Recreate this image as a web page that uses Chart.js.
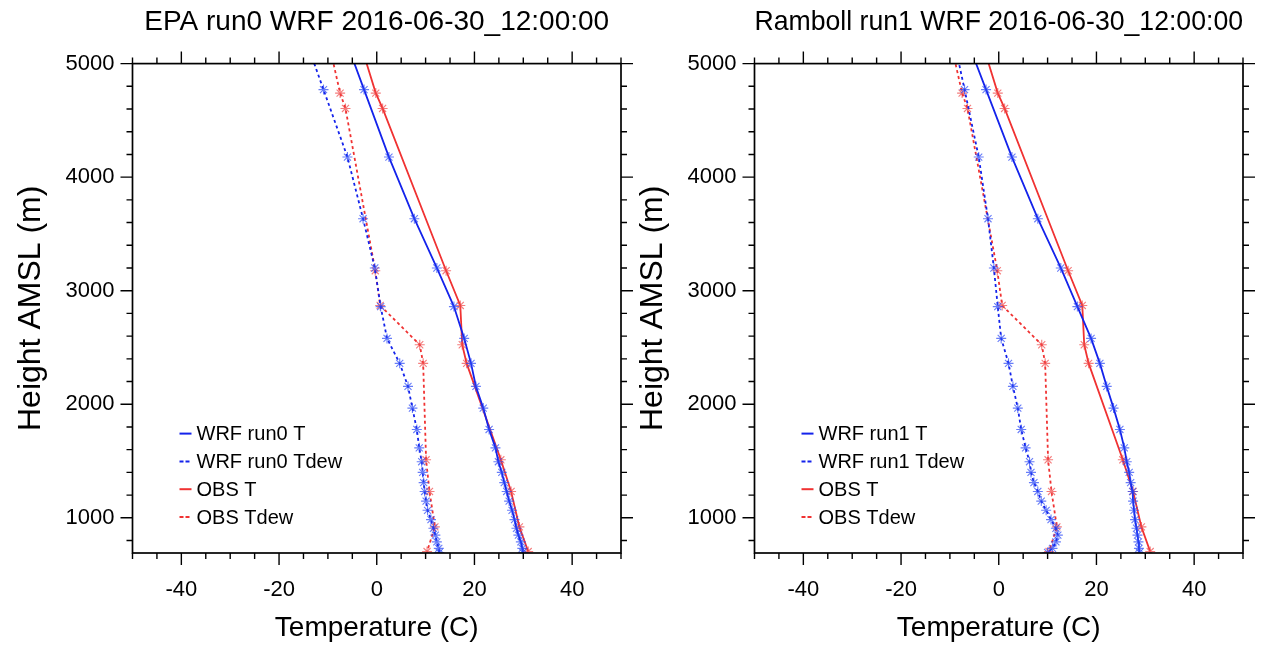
<!DOCTYPE html>
<html>
<head>
<meta charset="utf-8">
<title>WRF vs OBS soundings</title>
<script src="https://cdn.jsdelivr.net/npm/chart.js@4.4.1/dist/chart.umd.min.js"></script>
<style>
  html, body { margin: 0; padding: 0; background: #fff; }
  body { width: 1267px; height: 647px; position: relative; overflow: hidden; }
  .panel { position: absolute; top: 0; width: 634px; height: 647px; }
  #p0 { left: 0; }
  #p1 { left: 622px; }
</style>
</head>
<body>
<div class="panel" id="p0"><canvas id="c0"></canvas></div>
<div class="panel" id="p1"><canvas id="c1"></canvas></div>
<script>
/* ---- data (temperature in C, height in m AMSL) ---- */
const WRF_HEIGHTS = [5400, 4771, 4177, 3634, 3200, 2860, 2580, 2360, 2157, 1966, 1778, 1616,
                     1494, 1400, 1310, 1232, 1147, 1066, 984, 908, 847, 788, 731, 695];
const RUN0_T    = [-8.0, -2.6, 2.5, 7.7, 12.3, 15.8, 17.9, 19.3, 20.3, 21.8, 23.0, 24.3,
                   24.9, 25.6, 26.1, 26.6, 27.1, 27.7, 28.2, 28.6, 29.0, 29.5, 29.8, 29.9];
const RUN0_TDEW = [-16.1, -10.9, -6.0, -2.8, -0.4, 0.8, 2.1, 4.7, 6.4, 7.3, 8.2, 8.7,
                   9.2, 9.4, 9.6, 9.8, 10.1, 10.4, 11.1, 11.6, 12.0, 12.3, 12.7, 12.8];
const RUN1_T    = [-8.2, -2.6, 2.7, 8.0, 12.7, 16.1, 18.9, 20.7, 22.1, 23.5, 24.8, 25.7,
                   26.2, 26.7, 27.0, 27.4, 27.5, 27.7, 27.9, 28.2, 28.4, 28.6, 28.7, 28.8];
const RUN1_TDEW = [-10.1, -7.0, -4.1, -2.2, -1.0, -0.2, 0.5, 2.0, 2.9, 3.9, 4.6, 5.5,
                   6.3, 6.6, 7.2, 8.0, 8.7, 9.7, 10.7, 11.7, 12.1, 11.7, 11.0, 10.0];

const OBS_HEIGHTS = [5200, 4740, 4605, 3176, 2870, 2524, 2360, 1511, 1232, 920, 703];
const OBS_T       = [-3.5, -0.2, 1.2, 14.2, 17.1, 17.5, 18.4, 25.4, 27.5, 29.2, 31.0];
const OBS_TDEW    = [-9.9, -7.5, -6.4, -0.3, 0.7, 8.8, 9.5, 10.1, 10.8, 11.9, 10.3];

const X_TICKS = [-40, -20, 0, 20, 40];
const Y_TICKS = [1000, 2000, 3000, 4000, 5000];
const X_MIN = -50, X_MAX = 50, Y_MIN = 690, Y_MAX = 5000;

const BLUE = 'rgb(20,35,235)';
const BLUE_MK = 'rgba(40,70,245,0.7)';
const RED = 'rgb(240,50,50)';
const RED_MK = 'rgba(240,70,70,0.7)';
const FONT = '"Liberation Sans", Arial, Helvetica, sans-serif';

const LEG_X = 47, LEG_TEXT_X = 64, LEG_TOP = 370, LEG_STEP = 27.8;

function pts(xs, hs) { return xs.map((v, i) => ({ x: v, y: hs[i] })); }

function series(label, xs, hs, color, mk, dash) {
  return {
    label, data: pts(xs, hs), showLine: true,
    borderColor: color, borderWidth: 1.8, borderDash: dash,
    pointStyle: 'star', pointRadius: 5, pointBorderColor: mk, pointBorderWidth: 1.1,
    pointBackgroundColor: mk, tension: 0
  };
}

// NCL style frame with outward major/minor ticks on all four sides
const frameTicks = {
  id: 'frameTicks',
  afterDraw(chart) {
    const { ctx, chartArea: a, scales: { x, y } } = chart;
    ctx.save();
    ctx.strokeStyle = '#000';
    ctx.lineWidth = 1.4;
    ctx.beginPath();
    for (let v = X_MIN; v <= X_MAX; v += 5) {
      const px = x.getPixelForValue(v);
      const len = v % 20 === 0 ? 12 : 6;
      ctx.moveTo(px, a.bottom); ctx.lineTo(px, a.bottom + len);
      ctx.moveTo(px, a.top);    ctx.lineTo(px, a.top - len);
    }
    for (let v = 800; v <= Y_MAX; v += 200) {
      const py = y.getPixelForValue(v);
      const len = v % 1000 === 0 ? 12 : 6;
      ctx.moveTo(a.left, py);  ctx.lineTo(a.left - len, py);
      ctx.moveTo(a.right, py); ctx.lineTo(a.right + len, py);
    }
    ctx.stroke();
    ctx.lineWidth = 1.7;
    ctx.strokeRect(a.left, a.top, a.right - a.left, a.bottom - a.top);
    ctx.restore();
  }
};

// legend drawn inside the plot, lower left
const insideLegend = {
  id: 'insideLegend',
  afterDraw(chart) {
    const { ctx, chartArea: a } = chart;
    ctx.save();
    ctx.font = '20px ' + FONT;
    ctx.textBaseline = 'middle';
    ctx.fillStyle = '#000';
    chart.data.datasets.forEach((ds, i) => {
      const yy = a.top + LEG_TOP + i * LEG_STEP;
      ctx.strokeStyle = ds.borderColor;
      ctx.lineWidth = 2;
      ctx.setLineDash(ds.borderDash ? [4, 2] : []);
      ctx.beginPath();
      ctx.moveTo(a.left + LEG_X, yy);
      ctx.lineTo(a.left + LEG_X + 12, yy);
      ctx.stroke();
      ctx.setLineDash([]);
      ctx.fillText(ds.label, a.left + LEG_TEXT_X, yy + 1);
    });
    ctx.restore();
  }
};

function makePanel(canvasId, titleText, runName, tVals, tdVals) {
  return new Chart(document.getElementById(canvasId), {
    type: 'scatter',
    data: {
      datasets: [
        series('WRF ' + runName + ' T',    tVals,    WRF_HEIGHTS, BLUE, BLUE_MK, undefined),
        series('WRF ' + runName + ' Tdew', tdVals,   WRF_HEIGHTS, BLUE, BLUE_MK, [3, 3]),
        series('OBS T',                    OBS_T,    OBS_HEIGHTS, RED,  RED_MK,  undefined),
        series('OBS Tdew',                 OBS_TDEW, OBS_HEIGHTS, RED,  RED_MK,  [3, 3])
      ]
    },
    options: {
      responsive: true, maintainAspectRatio: false, animation: false,
      layout: { padding: { left: 0, right: 13, top: 0, bottom: 0 } },
      plugins: {
        legend: { display: false },
        tooltip: { enabled: false },
        title: {
          display: true, text: titleText, color: '#000', fullSize: false,
          font: { size: 28, family: FONT, weight: 'normal' },
          padding: { top: 5, bottom: 25 }
        }
      },
      scales: {
        x: {
          type: 'linear', min: X_MIN, max: X_MAX,
          afterBuildTicks: s => { s.ticks = X_TICKS.map(v => ({ value: v })); },
          afterFit: s => { s.height = 94; },
          grid: { drawOnChartArea: false, drawTicks: true, tickLength: 12, tickColor: 'rgba(0,0,0,0)' },
          border: { display: false },
          ticks: { color: '#000', font: { size: 22, family: FONT }, padding: 12, maxRotation: 0,
                   callback: v => String(v) },
          title: { display: true, text: 'Temperature (C)', color: '#000',
                   font: { size: 28, family: FONT }, padding: { top: 0, bottom: 2 } }
        },
        y: {
          type: 'linear', min: Y_MIN, max: Y_MAX,
          afterBuildTicks: s => { s.ticks = Y_TICKS.map(v => ({ value: v })); },
          afterFit: s => { s.width = 132.5; },
          grid: { drawOnChartArea: false, drawTicks: true, tickLength: 12, tickColor: 'rgba(0,0,0,0)' },
          border: { display: false },
          ticks: { color: '#000', font: { size: 22, family: FONT }, padding: 6,
                   callback: v => String(v) },
          title: { display: true, text: 'Height AMSL (m)', color: '#000',
                   font: { size: 32, family: FONT }, padding: { top: 12, bottom: 0 } }
        }
      }
    },
    plugins: [frameTicks, insideLegend]
  });
}

makePanel('c0', 'EPA run0 WRF 2016-06-30_12:00:00', 'run0', RUN0_T, RUN0_TDEW);
makePanel('c1', 'Ramboll run1 WRF 2016-06-30_12:00:00', 'run1', RUN1_T, RUN1_TDEW);
</script>
</body>
</html>
